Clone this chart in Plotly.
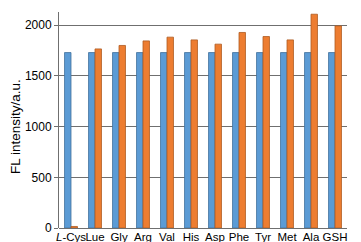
import plotly.graph_objects as go

categories = ["<i>L</i>-Cys", "Lue", "Gly", "Arg", "Val", "His", "Asp", "Phe", "Tyr", "Met", "Ala", "GSH"]
blank_values = [1730, 1730, 1730, 1730, 1730, 1730, 1730, 1730, 1730, 1730, 1730, 1730]
added_values = [15, 1766, 1800, 1845, 1882, 1855, 1813, 1928, 1888, 1855, 2108, 1993]
y_ticks = [0, 500, 1000, 1500, 2000]
y_title = "FL intensity/a.u."

fig = go.Figure()
fig.add_trace(go.Bar(x=categories, y=blank_values, marker=dict(color="#5B9BD5", line=dict(color="#41719C", width=0.8))))
fig.add_trace(go.Bar(x=categories, y=added_values, marker=dict(color="#ED7D31", line=dict(color="#AE5A21", width=0.8))))

fig.update_layout(
    width=361, height=242,
    margin=dict(l=51, r=22, t=4, b=22),
    paper_bgcolor="white", plot_bgcolor="white",
    barmode="group", bargap=0.46, bargroupgap=0,
    showlegend=False,
    font=dict(family="Liberation Sans, Arial, sans-serif", size=12, color="#000000"),
)
fig.add_annotation(
    text=y_title, textangle=-90, showarrow=False,
    xref="paper", yref="paper", x=-0.153, y=0.472,
    xanchor="center", yanchor="middle",
    font=dict(size=13.5, color="#000000"),
)
fig.update_xaxes(
    showgrid=False, showline=False, ticks="", tickfont=dict(size=11.5), tickangle=0,
)
fig.update_yaxes(
    range=[0, 2130], tickvals=y_ticks,
    showgrid=True, gridcolor="#6f6f6f", gridwidth=1,
    showline=True, linecolor="#6f6f6f", linewidth=1,
    ticks="outside", ticklen=4, tickcolor="#6f6f6f",
    zeroline=True, zerolinecolor="#6f6f6f", zerolinewidth=1,
    tickfont=dict(size=12),
)
fig.write_html("out.html")
